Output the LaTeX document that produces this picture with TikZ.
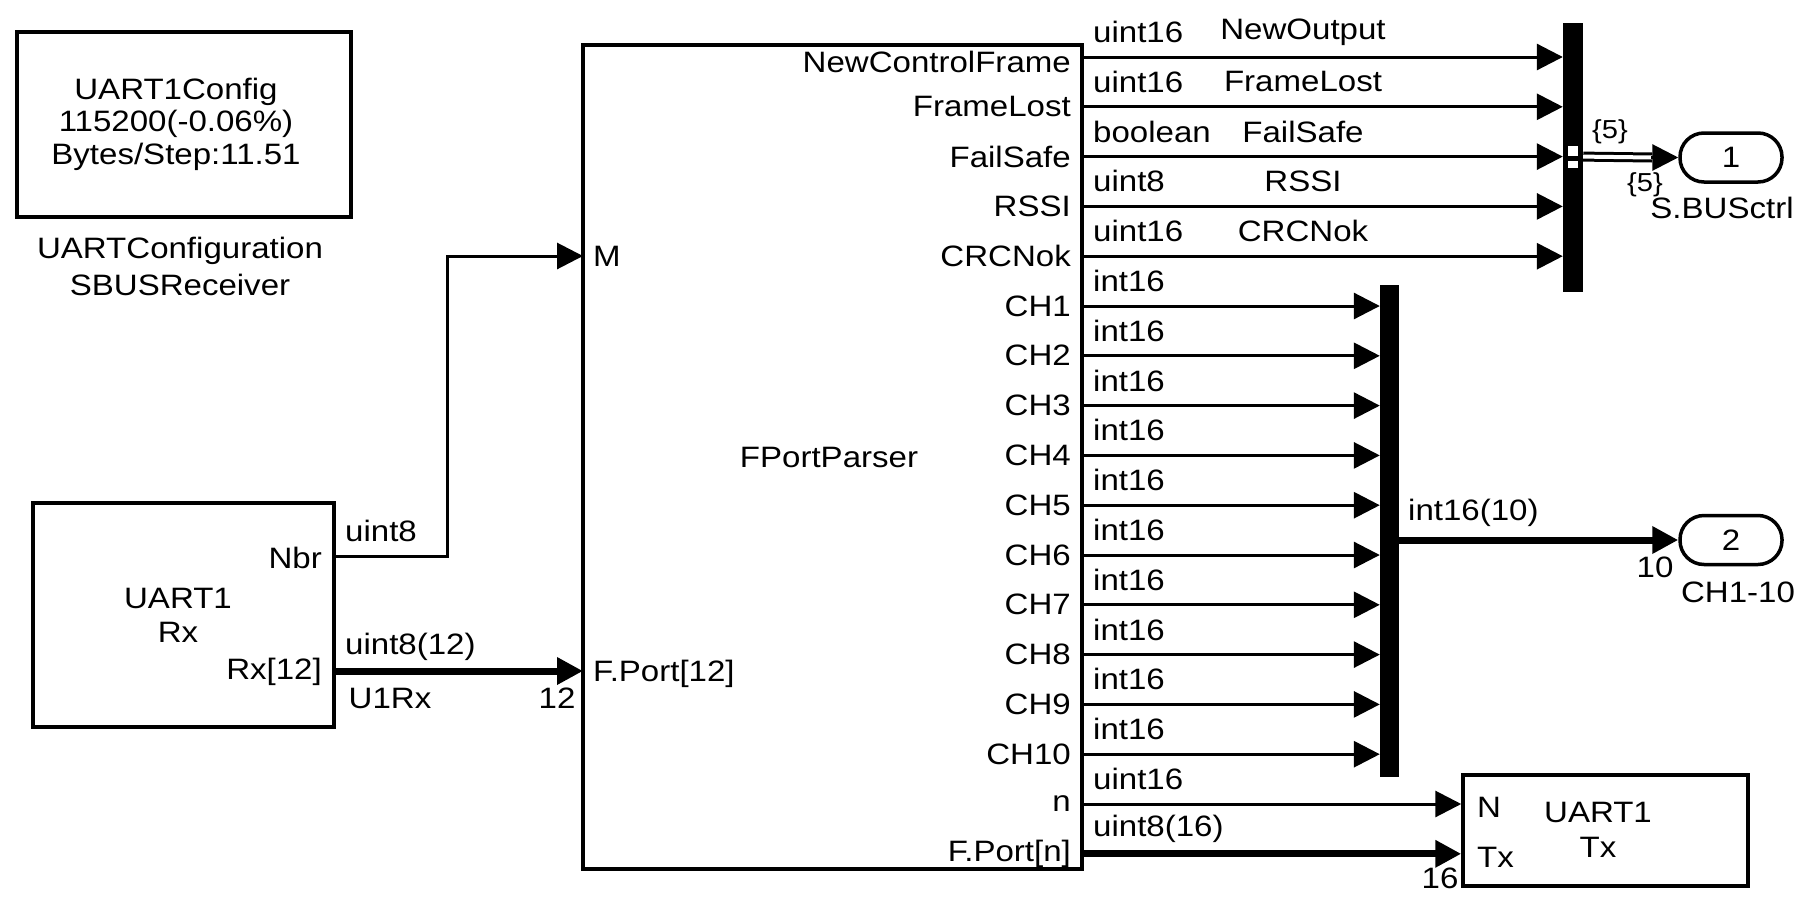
\documentclass[tikz,border=0pt]{standalone}
\usepackage{fontspec}
\setmainfont{Liberation Sans}[FakeStretch=1.12]
\usetikzlibrary{arrows.meta}
\usetikzlibrary{positioning}
\usetikzlibrary{calc}

\begin{document}
\begin{tikzpicture}[x=1pt,y=-1pt,>={Triangle[length=26pt,width=26pt]},
    txt/.style={font=\fontsize{29.5}{33}\selectfont,inner sep=0pt},
    small txt/.style={font=\fontsize{26}{28}\selectfont,inner sep=0pt},
    block/.style={draw,line width=3.5pt,inner sep=0pt},
    sig/.style={->,line width=3pt},
    wide sig/.style={->,line width=7pt},
    bus bar/.style={fill=black,inner sep=0pt,minimum width=20pt},
    port out/.style={draw,line width=3.5pt,rounded corners=24pt,minimum width=102pt,minimum height=49pt,font=\fontsize{29.5}{33}\selectfont}]

  \useasboundingbox (0,0) rectangle (1800,908);

  % configuration block
  \node[block,minimum width=334pt,minimum height=185pt] (cfg) at (184,124.5) {};
  \node[txt,align=center,font=\fontsize{29.5}{32.5}\selectfont] (cfgtxt) at (176,124) {UART1Config\\115200(-0.06\%)\\Bytes/Step:11.51};
  \node[txt,align=center,font=\fontsize{29.5}{37}\selectfont] (cfgname) at (180,266) {UARTConfiguration\\SBUSReceiver};

  % receiver
  \node[block,minimum width=301pt,minimum height=224pt] (rx) at (183.5,615) {};
  \node[txt,align=center,font=\fontsize{29.5}{34}\selectfont] (rxtxt) at (178,615) {UART1\\Rx};
  \node[txt,anchor=east] (rxnbr) at (322,558) {Nbr};
  \node[txt,anchor=east] (rxdat) at (322,672) {Rx[12]};
  \coordinate (rxN) at (334,556);
  \coordinate (rxD) at (334,671);

  % parser
  \node[block,minimum width=499pt,minimum height=824pt] (parser) at (832.5,457) {};
  \node[txt] (partxt) at (829,457) {FPortParser};
  \node[txt,anchor=west] (pinM) at (593,256) {M};
  \node[txt,anchor=west] (pinF) at (593,674) {F.Port[12]};
  \coordinate (pM) at (583,256);
  \coordinate (pF) at (583,671);
  \foreach \k in {0,...,16}
    \coordinate (po\k) at (1082,{57+49.8*\k});
  \node[txt,anchor=east] (pout0) at (1071,62) {NewControlFrame};
  \foreach \k/\name in {1/FrameLost,2/FailSafe,3/RSSI,4/CRCNok,5/CH1,6/CH2,7/CH3,8/CH4,9/CH5,
      10/CH6,11/CH7,12/CH8,13/CH9,14/CH10,15/n,16/F.Port[n]}
    \node[txt,anchor=east] (pout\k) at ($(po\k)+(-11,0)$) {\name};

  % bus creators
  \node[bus bar,minimum height=269pt] (busA) at (1573,157.5) {};
  \node[bus bar,minimum width=19pt,minimum height=492pt] (busB) at (1389.5,531) {};

  % outports
  \node[port out] (out1) at (1731,157.5) {1};
  \node[txt] (out1name) at (1722,208) {S.BUSctrl};
  \node[port out] (out2) at (1731,540) {2};
  \node[txt] (out2name) at (1738,592) {CH1-10};

  % transmitter
  \node[block,minimum width=285pt,minimum height=111pt] (txb) at (1605.5,830.5) {};
  \node[txt,align=center,font=\fontsize{29.5}{35}\selectfont] (txtxt) at (1598,830) {UART1\\Tx};
  \node[txt,anchor=west] (txN) at (1477,807) {N};
  \node[txt,anchor=west] (txD) at (1477,857) {Tx};

  % signals
  \draw[sig] (rxN) -- ++(113,0) |- (pM);
  \draw[wide sig] (rxD) -- (pF);
  \node[txt,anchor=west] at (345,531) {uint8};
  \node[txt,anchor=west] at (345,647) {uint8(12)};
  \node[txt] at (390,698) {U1Rx};
  \node[txt] at (557,698) {12};

  \foreach \k in {0,...,4}
    \draw[sig] (po\k) -- (po\k -| busA.west);
  \foreach \k in {5,...,14}
    \draw[sig] (po\k) -- (po\k -| busB.west);
  \draw[sig] (po15) -- (po15 -| txb.west);
  \draw[wide sig] (po16) -- (po16 -| txb.west);
  \node[txt] at (1440,878) {16};

  \foreach \k/\type in {0/uint16,1/uint16,2/boolean,3/uint8,4/uint16,5/int16,6/int16,7/int16,8/int16,
      9/int16,10/int16,11/int16,12/int16,13/int16,14/int16,15/uint16,16/uint8(16)}
    \node[txt,anchor=west] at ($(po\k)+(11,-25)$) {\type};
  \foreach \k/\sname in {0/NewOutput,1/FrameLost,2/FailSafe,3/RSSI,4/CRCNok}
    \node[txt] at ($(po\k)+(221,-25)$) {\sname};

  % bus to outport 1
  \coordinate (busAout) at (busA.east |- po2);
  \draw[line width=3pt,double,double distance=4pt] (busAout) -- ($(out1.west)+(-26,0)$);
  \draw[sig] ($(out1.west)+(-27,0)$) -- (out1.west);
  \draw[fill=white,line width=1.5pt] (1567,145) rectangle (1579,157);
  \draw[fill=white,line width=1.5pt] (1567,160) rectangle (1579,169);
  \node[small txt] at (1610,132) {\{5\}};
  \node[small txt] at (1645,185) {\{5\}};

  % bus to outport 2
  \draw[wide sig] (busB.east |- out2) -- (out2.west);
  \node[txt,anchor=west] at (1408,513) {int16(10)};
  \node[txt] at (1655,567) {10};
\end{tikzpicture}
\end{document}
